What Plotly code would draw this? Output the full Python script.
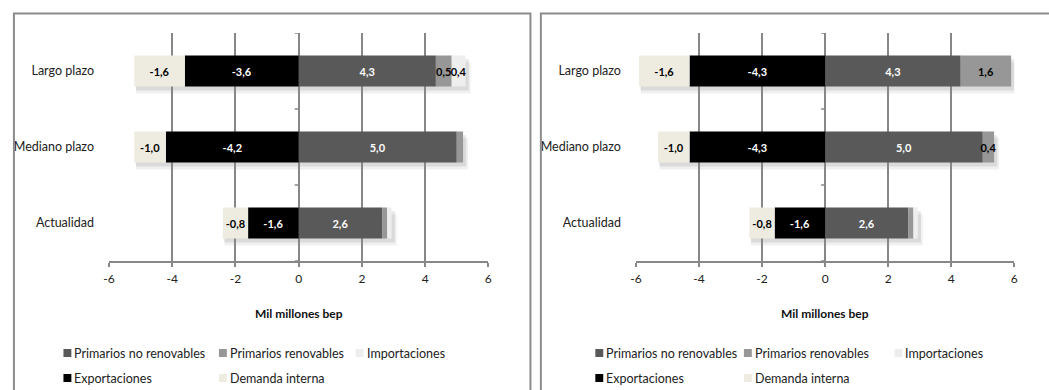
import plotly.graph_objects as go

W, H = 1049, 390

# Categories (bottom to top) and series
categorias = ["Actualidad", "Mediano plazo", "Largo plazo"]
series = ["Primarios no renovables", "Primarios renovables", "Importaciones",
          "Exportaciones", "Demanda interna"]
colores = ["#595959", "#979797", "#eeeeee", "#000000", "#eeece1"]
color_texto = ["white", "black", "black", "white", "black"]

# Left panel (Mil millones bep)
izq_primarios_no_renovables = [2.64, 5.0, 4.34]
izq_primarios_renovables = [0.16, 0.2, 0.5]
izq_importaciones = [0.14, 0.0, 0.44]
izq_exportaciones = [-1.6, -4.2, -3.6]
izq_demanda_interna = [-0.8, -1.0, -1.6]

# Right panel (Mil millones bep)
der_primarios_no_renovables = [2.64, 5.0, 4.3]
der_primarios_renovables = [0.16, 0.36, 1.6]
der_importaciones = [0.14, 0.0, 0.0]
der_exportaciones = [-1.6, -4.3, -4.3]
der_demanda_interna = [-0.8, -1.0, -1.6]

x_ticks = [-6, -4, -2, 0, 2, 4, 6]
x_min, x_max = -6, 6

GRIS = "#878787"
FUENTE = "Lato, 'Open Sans', sans-serif"
ANCHO_BARRA = 0.41


def px_x(p):
    return p / W


def px_y(p):
    return 1 - p / H


def etiqueta(v):
    if abs(v) < 0.3:
        return ""
    return f"{v:.1f}".replace(".", ",")


paneles = [
    {
        "valores": [izq_primarios_no_renovables, izq_primarios_renovables,
                    izq_importaciones, izq_exportaciones, izq_demanda_interna],
        "dom": [px_x(104), px_x(487)],
        "xa": "x", "ya": "y",
        "leyenda": [58, 215, 353],
        "marco": [8, 529.5],
    },
    {
        "valores": [der_primarios_no_renovables, der_primarios_renovables,
                    der_importaciones, der_exportaciones, der_demanda_interna],
        "dom": [px_x(636), px_x(1018)],
        "xa": "x2", "ya": "y2",
        "leyenda": [595, 745, 897],
        "marco": [540, 1060],
    },
]

y_dom = [px_y(261), px_y(33)]

fig = go.Figure()
shapes = []
annotations = []

for k, p in enumerate(paneles):
    for nombre, vals, col, ct in zip(series, p["valores"], colores, color_texto):
        fig.add_trace(go.Bar(
            y=categorias, x=vals, orientation="h", name=nombre,
            marker=dict(color=col, line=dict(width=0)),
            width=ANCHO_BARRA,
            text=[etiqueta(v) for v in vals],
            textposition="inside", insidetextanchor="middle",
            constraintext="none", textangle=0,
            textfont=dict(family=FUENTE, size=11, color=ct, weight="bold"),
            xaxis=p["xa"], yaxis=p["ya"], showlegend=False,
            hoverinfo="skip",
        ))

    # soft drop shadow under each stacked bar, spanning its total extent
    for i in range(len(categorias)):
        neg = sum(min(v[i], 0) for v in p["valores"])
        pos = sum(max(v[i], 0) for v in p["valores"])
        for dx, dy, op in [(0.16, 0.09, 0.06), (0.10, 0.05, 0.09)]:
            shapes.append(dict(
                type="rect", xref=p["xa"], yref=p["ya"],
                x0=neg + 0.05, x1=pos + dx,
                y0=i - ANCHO_BARRA / 2 - dy, y1=i + ANCHO_BARRA / 2 - dy,
                line=dict(width=0), fillcolor=f"rgba(0,0,0,{op})",
                layer="below",
            ))

    sfx = "" if k == 0 else "2"
    fig.layout["xaxis" + sfx] = dict(
        domain=p["dom"], anchor=p["ya"], range=[x_min, x_max],
        tickvals=x_ticks, ticktext=[str(t) for t in x_ticks],
        showgrid=True, gridcolor=GRIS, gridwidth=1.6,
        zeroline=True, zerolinecolor=GRIS, zerolinewidth=1.6,
        showline=True, linecolor=GRIS, linewidth=1.6,
        ticks="outside", ticklen=4, tickcolor=GRIS, tickwidth=1.6,
        ticklabelstandoff=2,
        tickfont=dict(family=FUENTE, size=12, color="#222"),
        fixedrange=True,
    )
    fig.layout["yaxis" + sfx] = dict(
        domain=y_dom, anchor=p["xa"], type="category",
        categoryorder="array", categoryarray=categorias,
        range=[-0.5, 2.5], showgrid=False, zeroline=False, showline=False,
        ticks="", ticklabelstandoff=14,
        tickfont=dict(family=FUENTE, size=12.5, color="#222"),
        fixedrange=True,
    )

    # short ticks on the vertical axis (x = 0) at category boundaries
    for b in range(len(categorias) + 1):
        shapes.append(dict(
            type="line", xref=p["xa"], yref=p["ya"],
            xsizemode="pixel", xanchor=0, x0=-4, x1=0,
            y0=b - 0.5, y1=b - 0.5,
            line=dict(color=GRIS, width=1.6), layer="above",
        ))

    # axis title
    annotations.append(dict(
        x=(p["dom"][0] + p["dom"][1]) / 2, y=px_y(313), xref="paper", yref="paper",
        text="<b>Mil millones bep</b>", showarrow=False, xanchor="center",
        yanchor="middle", font=dict(family=FUENTE, size=12, color="#111"),
    ))

    # panel frame
    shapes.append(dict(
        type="rect", xref="paper", yref="paper",
        x0=px_x(p["marco"][0]), x1=px_x(p["marco"][1]),
        y0=px_y(400), y1=px_y(13.5),
        line=dict(color="#8c8c8c", width=2), fillcolor="rgba(0,0,0,0)",
        layer="above",
    ))

    # legend: three columns, two rows
    filas = [353, 378]
    for i, (nombre, col) in enumerate(zip(series, colores)):
        fila, columna = divmod(i, 3)
        x0 = p["leyenda"][columna]
        yc = filas[fila]
        shapes.append(dict(
            type="rect", xref="paper", yref="paper",
            x0=px_x(x0), x1=px_x(x0 + 8), y0=px_y(yc + 4), y1=px_y(yc - 4),
            line=dict(width=0), fillcolor=col,
        ))
        annotations.append(dict(
            x=px_x(x0 + 9), y=px_y(yc), xref="paper", yref="paper",
            text=nombre, showarrow=False, xanchor="left", yanchor="middle",
            font=dict(family=FUENTE, size=12.5, color="#222"),
        ))

fig.update_layout(
    width=W, height=H,
    margin=dict(l=0, r=0, t=0, b=0),
    paper_bgcolor="white", plot_bgcolor="rgba(0,0,0,0)",
    barmode="relative", bargap=0.59,
    shapes=shapes, annotations=annotations,
    showlegend=False,
)

fig.write_html("out.html", config={"displayModeBar": False})
